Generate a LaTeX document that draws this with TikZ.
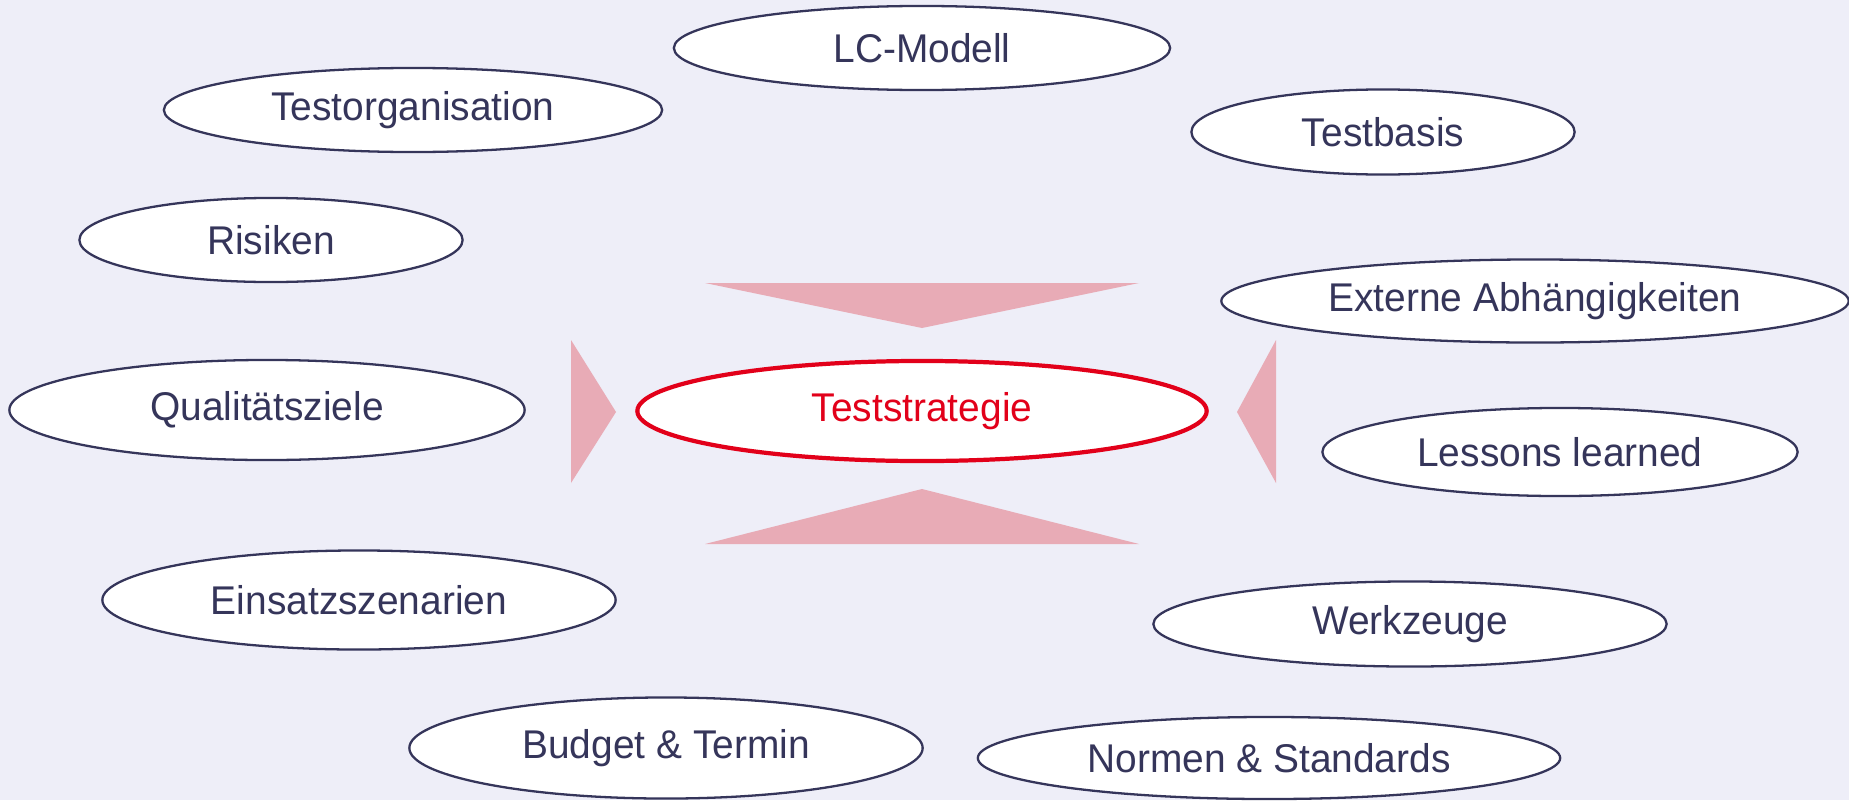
\documentclass[tikz,border=0pt]{standalone}
\usepackage{fontspec}
\setmainfont{Liberation Sans}[FakeStretch=0.97]
\usepackage{tikz}
\usetikzlibrary{shapes.geometric}
\definecolor{paper}{HTML}{EEEEF8}
\definecolor{ink}{HTML}{35355A}
\definecolor{signal}{HTML}{E2001A}
\definecolor{rose}{HTML}{E8ABB6}

\begin{document}
\begin{tikzpicture}[x=0.01cm,y=-0.01cm,
    topic/.style={ellipse,draw=ink,line width=0.65pt,fill=white,text=ink,inner sep=0pt,font=\fontsize{11.4}{13}\selectfont},
    core/.style={topic,draw=signal,text=signal,line width=1.2pt}]
    \fill[paper] (0,0) rectangle (1849,800);
    \useasboundingbox (0,0) rectangle (1849,800);
    % pointers towards the strategy
    \fill[rose] (705,283) -- (1139,283) -- (922,328) -- cycle;
    \fill[rose] (705,544) -- (1139,544) -- (922,489) -- cycle;
    \fill[rose] (571,340) -- (571,483) -- (616,412) -- cycle;
    \fill[rose] (1276,340) -- (1276,483) -- (1237,412) -- cycle;
    \node[topic,minimum width=4.96cm,minimum height=0.84cm] (lc) at (922,48) {LC-Modell};
    \node[topic,minimum width=4.98cm,minimum height=0.84cm] (orga) at (413,110) {Testorganisation};
    \node[topic,minimum width=3.83cm,minimum height=0.85cm] (basis) at (1383,132) {Testbasis};
    \node[topic,minimum width=3.83cm,minimum height=0.84cm] (risiken) at (271,240) {Risiken};
    \node[topic,minimum width=6.27cm,minimum height=0.83cm] (extern) at (1535,301) {Externe Abhängigkeiten};
    \node[topic,minimum width=5.15cm,minimum height=1.00cm] (ziele) at (267,410) {Qualitätsziele};
    \node[core,minimum width=5.69cm,minimum height=1.00cm] (strategie) at (922,411) {Teststrategie};
    \node[topic,minimum width=4.75cm,minimum height=0.88cm] (lessons) at (1560,452) {Lessons learned};
    \node[topic,minimum width=5.13cm,minimum height=0.99cm] (einsatz) at (359,600) {Einsatzszenarien};
    \node[topic,minimum width=5.13cm,minimum height=0.85cm] (werkzeuge) at (1410,624) {Werkzeuge};
    \node[topic,minimum width=5.13cm,minimum height=1.01cm] (budget) at (666,748) {Budget \& Termin};
    \node[topic,minimum width=5.82cm,minimum height=0.82cm] (normen) at (1269,758) {Normen \& Standards};
  \end{tikzpicture}
\end{document}
